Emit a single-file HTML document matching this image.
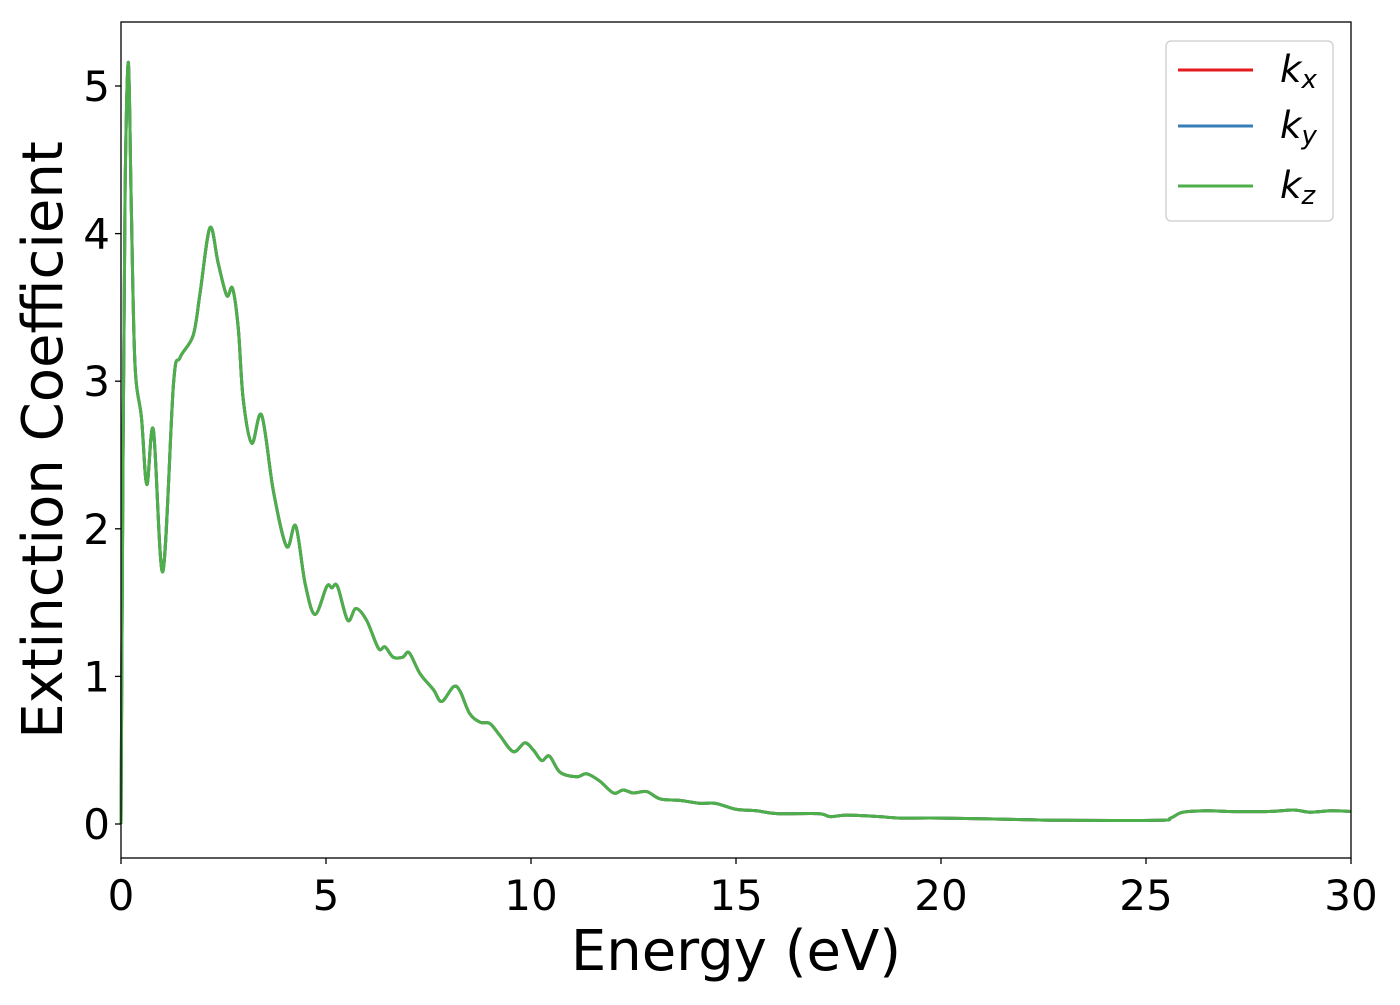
<!DOCTYPE html>
<html><head><meta charset="utf-8"><style>
body{margin:0;background:#fff;}
svg text{font-family:"DejaVu Sans","Liberation Sans",sans-serif;fill:#000;}
</style></head><body>
<svg id="chart" width="1400" height="1000" xmlns="http://www.w3.org/2000/svg">
<rect width="1400" height="1000" fill="#fff"/>
<g id="series"></g>
<rect x="121" y="22" width="1230" height="836" fill="none" stroke="#000" stroke-width="1.3"/>
<g id="axes"></g>
<text x="736" y="970" font-size="56" text-anchor="middle">Energy (eV)</text>
<text transform="translate(62,440) rotate(-90)" font-size="56" text-anchor="middle">Extinction Coefficient</text>
<g>
<rect x="1166" y="41" width="167" height="180" rx="5" fill="#fff" fill-opacity="0.8" stroke="#ccc" stroke-width="1.3"/>
<line x1="1178" y1="70" x2="1253" y2="70" stroke="#e41a1c" stroke-width="3"/>
<text x="1280" y="82" font-size="37" font-style="italic">k<tspan font-size="26" dy="6">x</tspan></text>
<line x1="1178" y1="126" x2="1253" y2="126" stroke="#377eb8" stroke-width="3"/>
<text x="1280" y="138" font-size="37" font-style="italic">k<tspan font-size="26" dy="6">y</tspan></text>
<line x1="1178" y1="186" x2="1253" y2="186" stroke="#4daf4a" stroke-width="3"/>
<text x="1280" y="198" font-size="37" font-style="italic">k<tspan font-size="26" dy="6">z</tspan></text>
</g>
</svg>
<script>
const energy=[0,0.05,0.1,0.18,0.25,0.34,0.5,0.63,0.79,1.02,1.28,1.44,1.76,1.93,2.17,2.37,2.58,2.72,2.86,2.98,3.19,3.43,3.72,4.04,4.26,4.49,4.73,5.02,5.14,5.28,5.53,5.73,5.99,6.28,6.44,6.64,6.87,7.03,7.29,7.62,7.82,8.11,8.27,8.5,8.76,9.0,9.24,9.57,9.85,10.06,10.26,10.45,10.71,11.11,11.36,11.68,12.01,12.25,12.5,12.82,13.15,13.63,14.12,14.5,15,15.5,16,17,17.3,17.7,18.5,19,20,22,23,25.3,25.6,25.9,26.5,27,28,28.6,29,29.5,30];
const kx=[0,2.5,4.3,5.16,4.2,3.12,2.75,2.30,2.67,1.71,2.98,3.16,3.31,3.60,4.04,3.80,3.58,3.63,3.36,2.88,2.58,2.77,2.25,1.88,2.02,1.63,1.42,1.61,1.60,1.61,1.38,1.46,1.38,1.19,1.20,1.13,1.13,1.16,1.02,0.91,0.83,0.93,0.90,0.75,0.69,0.68,0.60,0.49,0.55,0.50,0.43,0.46,0.35,0.32,0.34,0.29,0.21,0.23,0.21,0.22,0.17,0.16,0.14,0.14,0.10,0.09,0.07,0.07,0.05,0.06,0.05,0.04,0.04,0.03,0.025,0.025,0.04,0.08,0.09,0.085,0.085,0.095,0.08,0.09,0.085];
const ky=kx.slice();
const kz=kx.slice();
const xTicks=[0,5,10,15,20,25,30];
const yTicks=[0,1,2,3,4,5];
const xs=e=>121+e*41, ys=v=>824-v*147.6;
const NS='http://www.w3.org/2000/svg';
function pathFor(vals){
  const p=energy.map((e,i)=>[xs(e),ys(vals[i])]);
  let d='M'+p[0][0]+','+p[0][1];
  for(let i=0;i<p.length-1;i++){
    const p0=p[Math.max(0,i-1)],p1=p[i],p2=p[i+1],p3=p[Math.min(p.length-1,i+2)];
    const c1x=p1[0]+(p2[0]-p0[0])/6,c1y=p1[1]+(p2[1]-p0[1])/6;
    const c2x=p2[0]-(p3[0]-p1[0])/6,c2y=p2[1]-(p3[1]-p1[1])/6;
    d+=` C${c1x},${c1y} ${c2x},${c2y} ${p2[0]},${p2[1]}`;
  }
  return d;
}
const g=document.getElementById('series');
[[kx,'#e41a1c','kx'],[ky,'#377eb8','ky'],[kz,'#4daf4a','kz']].forEach(s=>{
  const el=document.createElementNS(NS,'path');
  el.setAttribute('d',pathFor(s[0]));
  el.setAttribute('fill','none');el.setAttribute('stroke',s[1]);el.setAttribute('stroke-width','3');
  
  
  g.appendChild(el);
});
const ax=document.getElementById('axes');
xTicks.forEach(t=>{
  const l=document.createElementNS(NS,'line');
  l.setAttribute('x1',xs(t));l.setAttribute('x2',xs(t));l.setAttribute('y1',858);l.setAttribute('y2',864);l.setAttribute('stroke','#000');l.setAttribute('stroke-width','1.3');
  
  
  ax.appendChild(l);
  const tx=document.createElementNS(NS,'text');
  tx.setAttribute('x',xs(t));tx.setAttribute('y',910);tx.setAttribute('font-size','42');tx.setAttribute('text-anchor','middle');
  tx.textContent=t;
  
  
  ax.appendChild(tx);
});
yTicks.forEach(t=>{
  const l=document.createElementNS(NS,'line');
  l.setAttribute('x1',115);l.setAttribute('x2',121);l.setAttribute('y1',ys(t));l.setAttribute('y2',ys(t));l.setAttribute('stroke','#000');l.setAttribute('stroke-width','1.3');
  
  
  ax.appendChild(l);
  const tx=document.createElementNS(NS,'text');
  tx.setAttribute('x',110);tx.setAttribute('y',ys(t)+15);tx.setAttribute('font-size','42');tx.setAttribute('text-anchor','end');
  tx.textContent=t;
  
  
  ax.appendChild(tx);
});
</script>
</body></html>
